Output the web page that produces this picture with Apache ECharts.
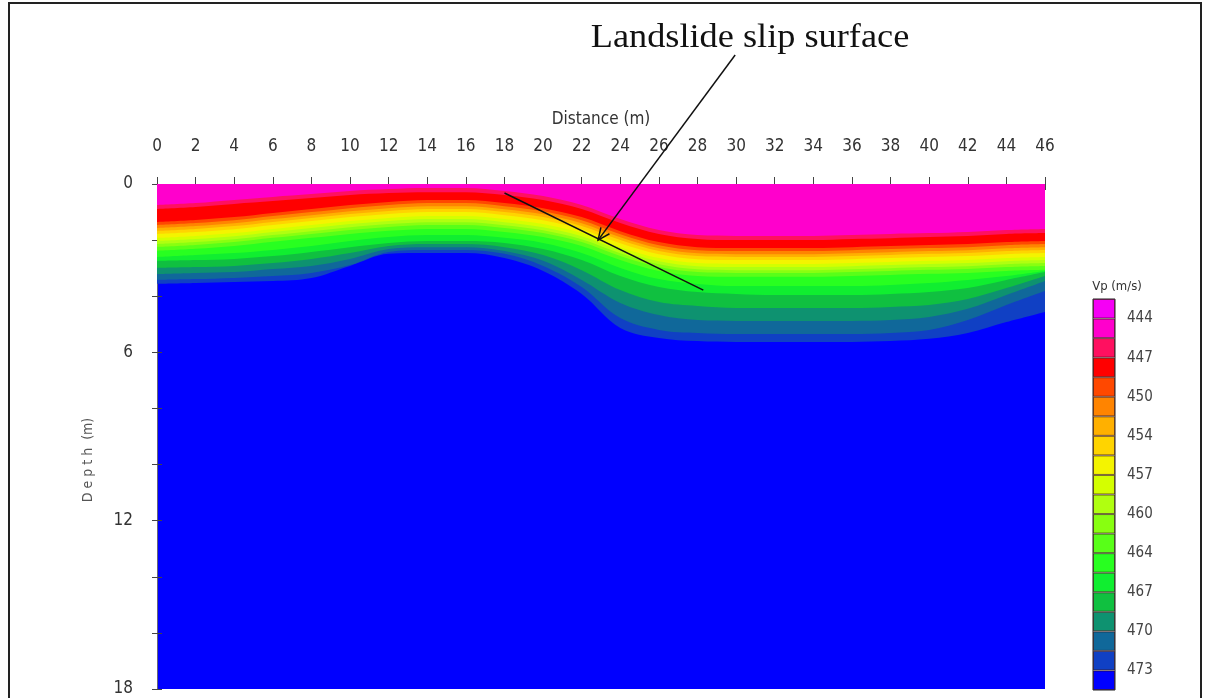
<!DOCTYPE html>
<html><head><meta charset="utf-8">
<script src="https://cdn.jsdelivr.net/npm/echarts@6/dist/echarts.min.js"></script>
<style>html,body{margin:0;padding:0;background:#fff}#c{width:1210px;height:698px}</style>
</head><body><div id="c"></div>
<script>
// ---- data ----
const distance = [0,2,4,6,8,10,12,14,16,18,20,22,24,26,28,30,32,34,36,38,40,42,44,46];
const depthLabels = [0,6,12,18];
// depth (m) of the top of each velocity band along the profile
const edge02 = [0.75,0.68,0.57,0.46,0.36,0.25,0.18,0.14,0.14,0.25,0.43,0.75,1.25,1.64,1.82,1.85,1.85,1.85,1.82,1.78,1.75,1.71,1.64,1.60];
const edge03 = [0.89,0.82,0.71,0.61,0.50,0.39,0.32,0.29,0.29,0.39,0.57,0.89,1.39,1.78,1.96,2.00,2.00,2.00,1.96,1.93,1.89,1.85,1.78,1.75];
const edge04 = [1.35,1.28,1.18,1.03,0.89,0.75,0.64,0.57,0.57,0.68,0.86,1.18,1.68,2.07,2.25,2.28,2.28,2.28,2.25,2.21,2.17,2.14,2.07,2.03];
const edge05 = [1.46,1.39,1.29,1.14,1.00,0.86,0.75,0.68,0.68,0.79,0.97,1.29,1.79,2.18,2.36,2.39,2.39,2.39,2.36,2.32,2.28,2.25,2.18,2.14];
const edge06 = [1.57,1.50,1.40,1.25,1.11,0.97,0.86,0.79,0.79,0.90,1.08,1.40,1.90,2.29,2.47,2.50,2.50,2.50,2.47,2.43,2.39,2.36,2.29,2.25];
const edge07 = [1.67,1.60,1.50,1.35,1.21,1.07,0.96,0.89,0.89,1.00,1.18,1.50,2.00,2.39,2.57,2.60,2.60,2.60,2.57,2.53,2.49,2.46,2.39,2.35];
const edge08 = [1.78,1.71,1.61,1.46,1.32,1.18,1.07,1.00,1.00,1.11,1.29,1.61,2.11,2.50,2.68,2.71,2.71,2.71,2.68,2.64,2.60,2.57,2.50,2.46];
const edge09 = [1.92,1.85,1.75,1.60,1.46,1.32,1.21,1.14,1.14,1.25,1.43,1.75,2.25,2.64,2.82,2.85,2.85,2.85,2.82,2.78,2.74,2.71,2.64,2.60];
const edge10 = [2.03,1.96,1.86,1.71,1.57,1.43,1.32,1.25,1.25,1.36,1.54,1.86,2.36,2.75,2.93,2.96,2.96,2.96,2.93,2.89,2.85,2.82,2.75,2.71];
const edge11 = [2.14,2.07,1.97,1.82,1.68,1.54,1.43,1.36,1.36,1.47,1.65,1.97,2.47,2.86,3.04,3.07,3.07,3.07,3.04,3.00,2.96,2.93,2.86,2.82];
const edge12 = [2.24,2.17,2.07,1.92,1.78,1.64,1.53,1.46,1.46,1.57,1.75,2.07,2.57,2.96,3.14,3.17,3.17,3.17,3.14,3.10,3.06,3.03,2.96,2.92];
const edge13 = [2.38,2.31,2.21,2.06,1.92,1.78,1.67,1.60,1.60,1.71,1.89,2.21,2.71,3.10,3.28,3.31,3.31,3.31,3.28,3.24,3.20,3.17,3.10,3.06];
const edge14 = [2.60,2.53,2.46,2.35,2.21,2.03,1.89,1.82,1.82,1.92,2.10,2.46,2.99,3.39,3.56,3.64,3.64,3.64,3.64,3.60,3.53,3.42,3.28,3.10];
const edge15 = [2.74,2.71,2.67,2.57,2.42,2.25,2.10,2.03,2.03,2.10,2.32,2.71,3.28,3.67,3.85,3.92,3.96,3.96,3.96,3.92,3.85,3.71,3.42,3.14];
const edge16 = [2.99,2.96,2.92,2.82,2.67,2.46,2.21,2.14,2.14,2.25,2.53,3.07,3.78,4.21,4.35,4.42,4.42,4.42,4.42,4.38,4.31,4.10,3.71,3.28];
const edge17 = [3.21,3.17,3.14,3.03,2.92,2.67,2.32,2.25,2.25,2.39,2.74,3.42,4.24,4.67,4.85,4.88,4.88,4.88,4.88,4.85,4.74,4.45,3.96,3.46];
const edge18 = [3.42,3.39,3.35,3.28,3.17,2.89,2.42,2.35,2.35,2.49,2.92,3.67,4.78,5.20,5.31,5.35,5.35,5.35,5.35,5.31,5.20,4.85,4.31,3.81];
const edge19 = [3.56,3.53,3.49,3.46,3.35,2.92,2.49,2.46,2.46,2.64,3.10,3.92,5.13,5.49,5.60,5.63,5.63,5.63,5.63,5.60,5.52,5.31,4.92,4.56];
// colour scale (top = low Vp)
const vpColors = ['#f500f5','#ff00cc','#ff1060','#ff0000','#ff4800','#ff8400','#ffb000','#ffd400','#f4f400','#d4ff00',
                  '#b0ff10','#88ff10','#58ff18','#28ff20','#10ee30','#10c040','#0e9270','#10689a','#1040c4','#0000ff'];
const vpLabels = ['444','447','450','454','457','460','464','467','470','473'];
// annotation (distance m, depth m)
const slipLine = [[18.0, 0.32], [28.3, 3.78]];
const arrowLine = [[29.95, -4.6], [22.85, 2.0]];

// ---- build ----
const NARROW = '"Liberation Sans Narrow","DejaVu Sans Condensed","Arial Narrow",sans-serif';
const edges = [edge02,edge03,edge04,edge05,edge06,edge07,edge08,edge09,edge10,edge11,edge12,edge13,edge14,edge15,edge16,edge17,edge18,edge19];
const bandSeries = [];
for (let k = edges.length - 1; k >= 0; k--) {
  const color = vpColors[k + 1];
  bandSeries.push({
    type: 'line', xAxisIndex: 0, yAxisIndex: 0,
    data: distance.map((d, i) => [d, edges[k][i]]),
    smooth: 0.35, showSymbol: false, silent: true,
    lineStyle: { width: 0, color: color },
    areaStyle: { color: color, opacity: 1, origin: 'start' }
  });
}
bandSeries[bandSeries.length - 1].markLine = {
  silent: true, symbol: ['none', 'none'], animation: false,
  lineStyle: { color: '#111', width: 1.5, type: 'solid' }, label: { show: false },
  data: [[{ coord: slipLine[0] }, { coord: slipLine[1] }]]
};
const upper = [], lower = [];
for (let i = 0; i < vpColors.length; i += 2) {
  upper.push({ value: 1, itemStyle: { color: vpColors[i] } });
  lower.push({ value: 1, itemStyle: { color: vpColors[i + 1] } });
}
const barCommon = { type: 'bar', xAxisIndex: 1, yAxisIndex: 2, barGap: '0%', barCategoryGap: '0%', silent: true,
  itemStyle: { borderColor: 'rgba(40,0,0,0.6)', borderWidth: 1 } };

const option = {
  animation: false,
  backgroundColor: '#ffffff',
  grid: [
    { left: 157, right: 165, top: 184, bottom: 9, show: true, backgroundColor: '#0000ff', borderWidth: 0 },
    { left: 1093, width: 22, top: 299, height: 391, show: true, borderColor: '#222', borderWidth: 1, backgroundColor: 'transparent' }
  ],
  xAxis: [
    { type: 'value', gridIndex: 0, position: 'top', min: 0, max: 46, interval: 2,
      name: 'Distance (m)', nameLocation: 'middle', nameGap: 56,
      nameTextStyle: { fontFamily: NARROW, fontSize: 17, color: '#333' },
      axisLine: { show: true, lineStyle: { color: '#444', width: 1 } },
      axisTick: { show: true, length: 7, lineStyle: { color: '#444' } },
      axisLabel: { margin: 29, fontFamily: NARROW, fontSize: 17, color: '#333' },
      splitLine: { show: false } },
    { type: 'value', gridIndex: 1, min: 0, max: 1, show: false },
    { type: 'value', gridIndex: 0, position: 'bottom', min: 0, max: 46, interval: 2,
      axisLine: { show: true, lineStyle: { color: '#444' } },
      axisTick: { show: true, length: 6, lineStyle: { color: '#444' } },
      axisLabel: { show: false }, splitLine: { show: false } }
  ],
  yAxis: [
    { type: 'value', gridIndex: 0, inverse: true, min: 0, max: 18, interval: 2, position: 'left',
      axisLine: { show: true, lineStyle: { color: '#667', width: 1 } },
      axisTick: { show: true, length: 5, lineStyle: { color: '#444' } },
      axisLabel: { margin: 24, fontFamily: NARROW, fontSize: 17, color: '#333',
        formatter: v => depthLabels.indexOf(v) >= 0 ? String(v) : '' },
      splitLine: { show: false } },
    { type: 'value', gridIndex: 0, inverse: true, min: 0, max: 18, interval: 2, position: 'right',
      axisLine: { show: true, lineStyle: { color: '#667' } },
      axisTick: { show: true, length: 5, lineStyle: { color: '#444' } },
      axisLabel: { show: false }, splitLine: { show: false } },
    { type: 'category', gridIndex: 1, data: vpLabels, inverse: true, position: 'right',
      axisLine: { show: false }, axisTick: { show: false },
      axisLabel: { margin: 12, fontFamily: NARROW, fontSize: 15, color: '#444' } }
  ],
  series: bandSeries.concat([
    Object.assign({ data: upper }, barCommon),
    Object.assign({ data: lower }, barCommon)
  ]),
  graphic: [
    { type: 'rect', silent: true, shape: { x: 9, y: 3, width: 1192, height: 720 },
      style: { fill: 'none', stroke: '#222', lineWidth: 2 } },
    { type: 'text', silent: true, x: 750, y: 38, scaleX: 1.1,
      style: { text: 'Landslide slip surface', font: '33px "Liberation Serif","Times New Roman",serif',
        fill: '#111', align: 'center', verticalAlign: 'middle' } },
    { type: 'text', silent: true, x: 1117, y: 287,
      style: { text: 'Vp (m/s)', font: '13px ' + NARROW, fill: '#333', align: 'center', verticalAlign: 'middle' } },
    { type: 'text', silent: true, x: 88, y: 460, rotation: Math.PI / 2,
      style: { text: 'D e p t h  (m)', font: '14px ' + NARROW, fill: '#555', align: 'center', verticalAlign: 'middle' } }
  ]
};

const chart = echarts.init(document.getElementById('c'), null, { renderer: 'canvas' });
chart.setOption(option);
const p0 = chart.convertToPixel({ gridIndex: 0 }, arrowLine[0]);
const p1 = chart.convertToPixel({ gridIndex: 0 }, arrowLine[1]);
const ang = Math.atan2(p1[1] - p0[1], p1[0] - p0[0]);
const head = 13, spread = 0.42;
const h1 = [p1[0] - head * Math.cos(ang - spread), p1[1] - head * Math.sin(ang - spread)];
const h2 = [p1[0] - head * Math.cos(ang + spread), p1[1] - head * Math.sin(ang + spread)];
chart.setOption({ graphic: option.graphic.concat([
  { type: 'line', silent: true, z: 100, shape: { x1: p0[0], y1: p0[1], x2: p1[0], y2: p1[1] },
    style: { stroke: '#111', lineWidth: 1.5 } },
  { type: 'polyline', silent: true, z: 100, shape: { points: [h1, p1, h2] },
    style: { stroke: '#111', lineWidth: 1.5, fill: 'none' } }
]) });
</script>
</body></html>
